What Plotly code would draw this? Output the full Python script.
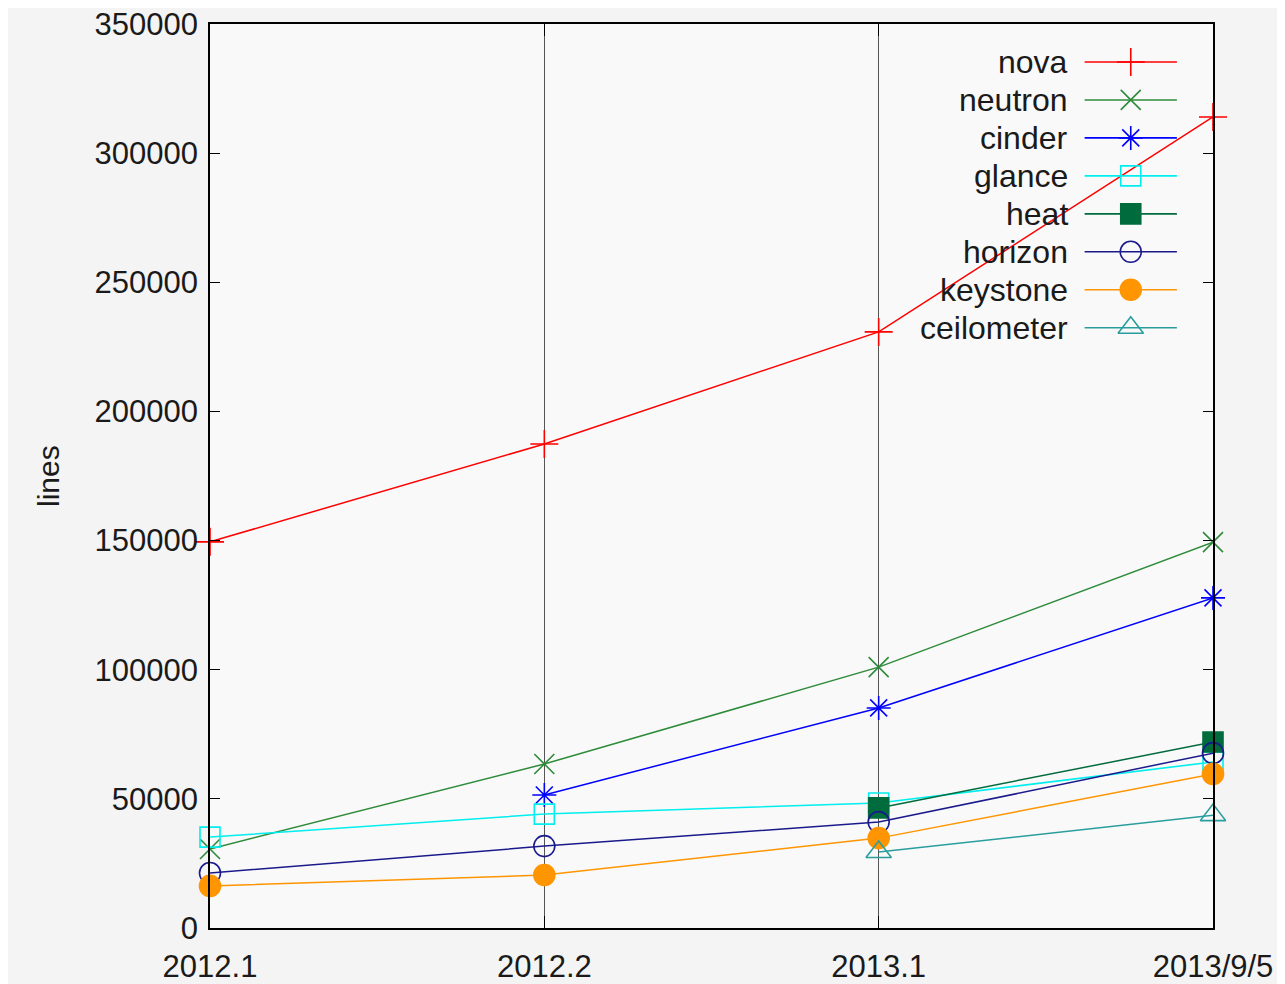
import plotly.graph_objects as go

categories = ["2012.1", "2012.2", "2013.1", "2013/9/5"]
y_ticks = [0, 50000, 100000, 150000, 200000, 250000, 300000, 350000]

nova = [149500, 187400, 230800, 314000]
neutron = [30600, 63500, 101000, 149400]
cinder = [None, 51500, 85200, 127800]
glance = [35200, 44100, 48400, 64300]
heat = [None, None, 46500, 72000]
horizon = [21300, 31700, 41000, 67700]
keystone = [16300, 20500, 34800, 59600]
ceilometer = [None, None, 29400, 43700]

series = [
    ("nova", nova, "#ff0000", "cross-thin", 20, 1.5),
    ("neutron", neutron, "#2e8b3a", "x-thin", 20, 1.5),
    ("cinder", cinder, "#0000ff", "asterisk-open", 20, 1.5),
    ("glance", glance, "#00eeee", "square-open", 20, 1.5),
    ("heat", heat, "#006b3c", "square", 20, 1.5),
    ("horizon", horizon, "#1a1a8c", "circle-open", 21, 1.5),
    ("keystone", keystone, "#ff9500", "circle", 21, 1.5),
    ("ceilometer", ceilometer, "#2a9d9d", "triangle-up-open", 22, 1.5),
]

fig = go.Figure()
for name, vals, color, sym, size, lw in series:
    xs = [c for c, v in zip(categories, vals) if v is not None]
    ys = [v for v in vals if v is not None]
    fig.add_trace(go.Scatter(
        x=xs, y=ys, mode="lines+markers", name=name,
        line=dict(color=color, width=lw),
        marker=dict(symbol=sym, size=size, color=color,
                    line=dict(color=color, width=1.6)),
        cliponaxis=False, showlegend=False,
    ))

# manual gnuplot-style legend (text right-aligned, sample on right)
font = "Liberation Sans, Arial, sans-serif"
row0 = 0.958
step = 0.042
x_text = 0.857
x0, x1, xm = 0.872, 0.964, 0.918
annotations = []
shapes = []
for i, (name, vals, color, sym, size, lw) in enumerate(series):
    yy = row0 - i * step
    annotations.append(dict(x=x_text, y=yy, xref="paper", yref="paper",
                            text=name, showarrow=False, xanchor="right",
                            yanchor="middle", font=dict(size=32, color="#1a1a1a", family=font)))
    shapes.append(dict(type="line", xref="paper", yref="paper", x0=x0, x1=x1,
                       y0=yy, y1=yy, line=dict(color=color, width=1.6)))
    fig.add_trace(go.Scatter(
        x=[xm], y=[yy], xaxis="x2", yaxis="y2", mode="markers",
        marker=dict(symbol=sym, size=size, color=color, line=dict(color=color, width=1.6)),
        showlegend=False, hoverinfo="skip", cliponaxis=False,
    ))

annotations.append(dict(x=-0.18, y=0.5, xref="paper", yref="paper", text="lines",
                        textangle=-90, showarrow=False,
                        font=dict(size=30, color="#1a1a1a", family=font)))

fig.update_layout(
    width=1277, height=976,
    margin=dict(l=202, r=72, t=16, b=56, autoexpand=False),
    paper_bgcolor="#f4f4f4", plot_bgcolor="#f9f9f9",
    font=dict(family=font, size=31, color="#1a1a1a"),
    xaxis=dict(type="category", categoryorder="array", categoryarray=categories,
               range=[0, 3], showgrid=True, gridcolor="#555555", gridwidth=1,
               showline=True, linecolor="black", linewidth=1.5, mirror="ticks",
               ticks="inside", ticklen=12, tickcolor="black", automargin=False,
               zeroline=False, ticklabelstandoff=10, ticklabeloverflow="allow",
               tickfont=dict(size=31, color="#1a1a1a")),
    yaxis=dict(range=[0, 350000], tickvals=y_ticks, ticktext=[str(v) for v in y_ticks],
               showgrid=False, showline=True, linecolor="black", linewidth=1.5,
               mirror="ticks", ticks="inside", ticklen=10, tickcolor="black",
               automargin=False, ticklabelstandoff=4, ticklabeloverflow="allow",
               zeroline=False, tickfont=dict(size=31, color="#1a1a1a")),
    xaxis2=dict(overlaying="x", range=[0, 1], visible=False),
    yaxis2=dict(overlaying="y", range=[0, 1], visible=False),
    annotations=annotations, shapes=shapes,
)

fig.write_html("out.html")
